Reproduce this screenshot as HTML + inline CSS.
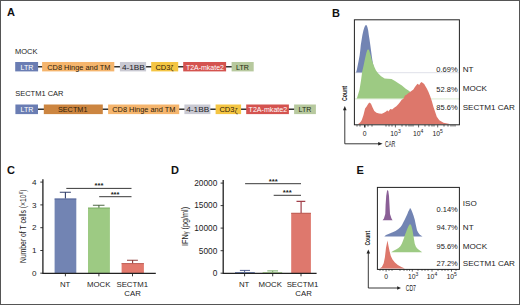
<!DOCTYPE html>
<html><head><meta charset="utf-8">
<style>
html,body{margin:0;padding:0;background:#fff;}
body{width:520px;height:305px;overflow:hidden;position:relative;}
svg{position:absolute;left:0;top:0;display:block;}
text{font-family:"Liberation Sans",sans-serif;}
</style></head>
<body>
<svg width="520" height="305" viewBox="0 0 520 305">
<rect x="0" y="0" width="520" height="305" fill="#fff"/>
<!-- border -->
<rect x="0.5" y="0.5" width="519" height="304" fill="none" stroke="#555" stroke-width="1"/>

<!-- panel letters -->
<g font-weight="bold" font-size="11" fill="#111">
<text x="7" y="16.4">A</text>
<text x="332" y="16.9">B</text>
<text x="6.9" y="173.6">C</text>
<text x="171" y="173.7">D</text>
<text x="356.6" y="173.8">E</text>
</g>

<!-- ===== Panel A ===== -->
<g font-size="7.5" fill="#222">
<text x="15" y="53.8">MOCK</text>
<text x="15.2" y="96.3">SECTM1 CAR</text>
</g>
<g stroke="#333" stroke-width="1.4">
<line x1="37" y1="66.8" x2="245" y2="66.8"/>
<line x1="37" y1="109.3" x2="305" y2="109.3"/>
</g>
<!-- row 1 -->
<g>
<rect x="15.2" y="62" width="22.9" height="9.4" fill="#6a7db3"/>
<rect x="42.1" y="62" width="72.2" height="9.4" fill="#f5b56d"/>
<rect x="119.9" y="62" width="26.2" height="9.4" fill="#c9c9d2"/>
<rect x="151.2" y="62" width="27" height="9.4" fill="#f4c543"/>
<rect x="183.2" y="62" width="42.9" height="9.4" fill="#d4534f"/>
<rect x="231.6" y="62" width="22.1" height="9.4" fill="#b7c99e"/>
</g>
<g font-size="7.2" lengthAdjust="spacingAndGlyphs">
<text x="20.5" y="69.5" fill="#fff" textLength="12.9" lengthAdjust="spacingAndGlyphs">LTR</text>
<text x="47.3" y="69.5" fill="#2e2008" textLength="63" lengthAdjust="spacingAndGlyphs">CD8 Hinge and TM</text>
<text x="121.9" y="69.5" fill="#222226" textLength="23" lengthAdjust="spacingAndGlyphs">4-1BB</text>
<text x="155.4" y="69.5" fill="#2e2008" textLength="15" lengthAdjust="spacingAndGlyphs">CD3</text><text x="170.5" y="70.1" font-size="6.3" fill="#2e2008">ζ</text>
<text x="185.9" y="69.5" fill="#fff" textLength="38.1" lengthAdjust="spacingAndGlyphs">T2A-mkate2</text>
<text x="236.1" y="69.5" fill="#1f2a12" textLength="12.9" lengthAdjust="spacingAndGlyphs">LTR</text>
</g>
<!-- row 2 -->
<g>
<rect x="15.4" y="104.5" width="22.6" height="9.6" fill="#6a7db3"/>
<rect x="43.8" y="104.5" width="59" height="9.6" fill="#cc8540"/>
<rect x="108.1" y="104.5" width="71.1" height="9.6" fill="#f5b56d"/>
<rect x="184.4" y="104.5" width="26" height="9.6" fill="#c9c9d2"/>
<rect x="215.6" y="104.5" width="25.5" height="9.6" fill="#f4c543"/>
<rect x="246.2" y="104.5" width="42.7" height="9.6" fill="#d4534f"/>
<rect x="294.1" y="104.5" width="21.8" height="9.6" fill="#b7c99e"/>
</g>
<g font-size="7.2">
<text x="20.6" y="111.9" fill="#fff" textLength="12.9" lengthAdjust="spacingAndGlyphs">LTR</text>
<text x="57.9" y="111.9" fill="#2e2008" textLength="29.6" lengthAdjust="spacingAndGlyphs">SECTM1</text>
<text x="112.3" y="111.9" fill="#2e2008" textLength="63" lengthAdjust="spacingAndGlyphs">CD8 Hinge and TM</text>
<text x="186.2" y="111.9" fill="#222226" textLength="23" lengthAdjust="spacingAndGlyphs">4-1BB</text>
<text x="219.4" y="111.9" fill="#2e2008" textLength="15.2" lengthAdjust="spacingAndGlyphs">CD3</text><text x="234.8" y="112.5" font-size="6.3" fill="#2e2008">ζ</text>
<text x="248.6" y="111.9" fill="#fff" textLength="38.6" lengthAdjust="spacingAndGlyphs">T2A-mkate2</text>
<text x="298.5" y="111.9" fill="#1f2a12" textLength="12.9" lengthAdjust="spacingAndGlyphs">LTR</text>
</g>

<!-- ===== Panel B ===== -->
<g>
<!-- baselines -->
<line x1="355" y1="72.7" x2="459" y2="72.7" stroke="#dcdee6" stroke-width="0.9"/>
<line x1="355" y1="98.9" x2="459" y2="98.9" stroke="#d6e6cc" stroke-width="0.9"/>
<!-- blue NT -->
<path fill="#7284b3" d="M356,72.6 L356.8,70 L357.6,66 L358.6,61 L359.7,55 L360.3,50 L360.8,45 L361.6,40 L362.4,35 L363.4,30.5 L364.5,27 L365.3,25.6 L366,25 L366.8,25.6 L367.5,27.5 L368.2,30.5 L368.8,35 L369.6,40 L370.3,45 L371.1,51 L371.9,57 L372.8,63 L374,68 L375.5,72.6 Z"/>
<!-- green MOCK -->
<path fill="#9dca83" d="M356.8,98.6 L357.3,97.1 L359.5,89.8 L361,80.6 L362.2,71.5 L363.5,66 L365,58.7 L366.3,53 L367.3,50 L368.2,49.2 L369.2,50.5 L370.5,55 L371.8,60 L373.2,64.1 L374.6,67.5 L376,70.5 L378.3,73.5 L381.1,76.3 L384.6,78.5 L388,78.8 L391.5,79.1 L395,81 L398.4,83.3 L401.9,85.6 L405.4,88.5 L408.8,90.8 L412,93.5 L416,96.2 L421,97.8 L428,98.6 Z"/>
<!-- red SECTM1 -->
<path fill="#dd776b" d="M357.5,124.3 L359,123.4 L360.6,122 L361.8,120 L363.5,115 L365.1,108.5 L366.8,106.2 L368.4,103.5 L369.8,102.4 L371.1,104.1 L372.7,107.8 L374.3,111.1 L376.5,112.7 L379.1,113.4 L381.8,113.8 L384,112.7 L386.1,111.6 L387.2,110.3 L388.3,111.6 L390.4,108.9 L392.1,109.5 L394.2,107.8 L396.4,106.2 L398.5,104.1 L400.1,101.9 L401.7,99.8 L403.4,98.7 L405,95.5 L406.5,94.8 L408.2,93.2 L410,91.9 L411.7,90.8 L413.4,89.6 L414.6,87.5 L415.7,86.1 L417.5,83.8 L419.2,85 L420.4,83 L421.5,82.1 L423.2,83.3 L424.2,84 L425,85.6 L426.8,88.4 L428.4,91.7 L430.1,95.9 L431.8,100.9 L433.4,106.8 L435.1,111.8 L436.8,116.8 L439.3,120.2 L443.5,122.7 L448.5,123.8 L450,124.2 Z"/>
<!-- box -->
<rect x="354.4" y="19.8" width="105" height="105" fill="none" stroke="#222" stroke-width="1"/>
<!-- minor ticks -->
<g stroke="#222" stroke-width="0.7">
<line x1="357" y1="124.9" x2="357" y2="126.6"/>
<line x1="360" y1="124.9" x2="360" y2="126.6"/>
<line x1="364.8" y1="124.9" x2="364.8" y2="127.6" stroke-width="1.4"/>
<line x1="368" y1="124.9" x2="368" y2="126.6"/>
<line x1="372" y1="124.9" x2="372" y2="126.6"/>
<line x1="386" y1="124.9" x2="386" y2="126.6"/>
<line x1="389" y1="124.9" x2="389" y2="126.6"/>
<line x1="392" y1="124.9" x2="392" y2="126.6"/>
<line x1="395.4" y1="124.9" x2="395.4" y2="127.4"/>
<line x1="402" y1="124.9" x2="402" y2="126.6"/>
<line x1="406" y1="124.9" x2="406" y2="126.6"/>
<line x1="409" y1="124.9" x2="409" y2="126.6"/>
<line x1="411" y1="124.9" x2="411" y2="126.6"/>
<line x1="413" y1="124.9" x2="413" y2="126.6"/>
<line x1="418.6" y1="124.9" x2="418.6" y2="127.4"/>
<line x1="425" y1="124.9" x2="425" y2="126.6"/>
<line x1="429" y1="124.9" x2="429" y2="126.6"/>
<line x1="432" y1="124.9" x2="432" y2="126.6"/>
<line x1="434" y1="124.9" x2="434" y2="126.6"/>
<line x1="437.7" y1="124.9" x2="437.7" y2="127.4"/>
<line x1="444" y1="124.9" x2="444" y2="126.6"/>
<line x1="448" y1="124.9" x2="448" y2="126.6"/>
<line x1="451" y1="124.9" x2="451" y2="126.6"/>
<line x1="453" y1="124.9" x2="453" y2="126.6"/>
<line x1="455" y1="124.9" x2="455" y2="126.6"/>
</g>
<g font-size="6.8" fill="#222" text-anchor="middle">
<text x="364.6" y="135.9">0</text>
<text x="395.5" y="135.9">10<tspan font-size="5" dy="-2.6">3</tspan></text>
<text x="418.2" y="135.9">10<tspan font-size="5" dy="-2.6">4</tspan></text>
<text x="437.6" y="135.9">10<tspan font-size="5" dy="-2.6">5</tspan></text>
</g>
<!-- arrows -->
<path d="M344.8,109 L344.8,143.8 L380,143.8" fill="none" stroke="#222" stroke-width="0.9"/>
<path d="M344.8,106 L343,110.2 L346.6,110.2 Z" fill="#222"/>
<path d="M382.6,143.8 L378.2,142.1 L378.2,145.5 Z" fill="#222"/>
<text x="385" y="146.6" font-size="8.4" fill="#222" textLength="10.4" lengthAdjust="spacingAndGlyphs">CAR</text>
<text x="0" y="0" font-size="7.3" font-weight="bold" fill="#222" transform="translate(347.4,101.1) rotate(-90)" textLength="15.2" lengthAdjust="spacingAndGlyphs">Count</text>
<!-- labels -->
<g font-size="7.5" fill="#222" text-anchor="end">
<text x="457.6" y="71.9">0.69%</text>
<text x="457.6" y="91.6">52.8%</text>
<text x="457.6" y="110.4">85.6%</text>
</g>
<g font-size="8.1" fill="#222">
<text x="462.7" y="71.6">NT</text>
<text x="462.7" y="91.4">MOCK</text>
<text x="462.7" y="110.3">SECTM1 CAR</text>
</g>
</g>

<!-- ===== Panel C ===== -->
<g>
<!-- bars -->
<rect x="54.6" y="198.6" width="21.7" height="74.6" fill="#7284b3"/>
<line x1="54.6" y1="199" x2="76.3" y2="199" stroke="#4e5d92" stroke-width="0.8"/>
<rect x="88" y="207.7" width="21.9" height="65.5" fill="#9dca83"/>
<line x1="88" y1="208.1" x2="109.9" y2="208.1" stroke="#78a862" stroke-width="0.8"/>
<rect x="121.6" y="263.2" width="22.3" height="10" fill="#e2796d"/>
<line x1="121.6" y1="263.6" x2="143.9" y2="263.6" stroke="#b5574f" stroke-width="0.8"/>
<!-- error bars -->
<path d="M65.4,198.4 V192.2 M59.8,192.2 H70.9" stroke="#35426e" stroke-width="1.1" fill="none"/>
<path d="M98.9,207.8 V205.3 M92.9,205.3 H104.5" stroke="#4f6a45" stroke-width="1.1" fill="none"/>
<path d="M132.6,263.2 V260.3 M127,260.3 H137.9" stroke="#8e3d3a" stroke-width="1.1" fill="none"/>
<!-- axes -->
<path d="M42.9,179.3 V273.4 H155.8" stroke="#222" stroke-width="1.3" fill="none"/>
<g stroke="#222" stroke-width="0.9">
<line x1="40.3" y1="182.1" x2="43" y2="182.1"/>
<line x1="40.3" y1="204.9" x2="43" y2="204.9"/>
<line x1="40.3" y1="227.7" x2="43" y2="227.7"/>
<line x1="40.3" y1="250.5" x2="43" y2="250.5"/>
<line x1="40.3" y1="273.2" x2="43" y2="273.2"/>
<line x1="65.4" y1="273.2" x2="65.4" y2="276.3"/>
<line x1="98.9" y1="273.2" x2="98.9" y2="276.3"/>
<line x1="132.5" y1="273.2" x2="132.5" y2="276.3"/>
</g>
<g font-size="8.1" fill="#222" text-anchor="end">
<text x="36.6" y="184.9">4</text>
<text x="36.6" y="207.6">3</text>
<text x="36.6" y="230.4">2</text>
<text x="36.6" y="253.2">1</text>
<text x="36.6" y="275.9">0</text>
</g>
<g font-size="7.8" fill="#222" text-anchor="middle">
<text x="65.1" y="286.6">NT</text>
<text x="98.7" y="286.6">MOCK</text>
<text x="132.3" y="286.6">SECTM1</text>
<text x="132.6" y="295.7">CAR</text>
</g>
<text x="0" y="0" font-size="8.2" fill="#222" transform="translate(26,263) rotate(-90)" textLength="73.4" lengthAdjust="spacingAndGlyphs">Number of T cells (×10<tspan font-size="5.4" dy="-2.9">6</tspan><tspan dy="2.9">)</tspan></text>
<!-- significance -->
<g stroke="#222" stroke-width="0.9">
<line x1="66.3" y1="188.4" x2="131.5" y2="188.4"/>
<line x1="99.2" y1="196.7" x2="131.5" y2="196.7"/>
</g>
<g font-size="7.6" font-weight="bold" fill="#222" text-anchor="middle">
<text x="99" y="188.2">***</text>
<text x="115.1" y="196.8">***</text>
</g>
</g>

<!-- ===== Panel D ===== -->
<g>
<rect x="235" y="272" width="19.8" height="1.2" fill="#7284b3"/>
<rect x="262.6" y="272.2" width="19.6" height="1" fill="#9dca83"/>
<rect x="291.2" y="212.9" width="19.7" height="60.3" fill="#de786d"/>
<line x1="291.2" y1="213.3" x2="310.9" y2="213.3" stroke="#b5574f" stroke-width="0.8"/>
<path d="M244.6,272 V270.4 M239.9,270.4 H250" stroke="#3f4f86" stroke-width="0.9" fill="none"/>
<path d="M272.7,272.2 V270.9 M267.3,270.9 H278" stroke="#6aa556" stroke-width="0.9" fill="none"/>
<path d="M301.1,212.9 V201.4 M296.5,201.4 H305.3" stroke="#a2404a" stroke-width="1.2" fill="none"/>
<path d="M223.2,179.9 V273.4 H316.6" stroke="#222" stroke-width="1.3" fill="none"/>
<g stroke="#222" stroke-width="0.9">
<line x1="220.6" y1="183.1" x2="223.3" y2="183.1"/>
<line x1="220.6" y1="205.6" x2="223.3" y2="205.6"/>
<line x1="220.6" y1="228.1" x2="223.3" y2="228.1"/>
<line x1="220.6" y1="250.7" x2="223.3" y2="250.7"/>
<line x1="220.6" y1="273.2" x2="223.3" y2="273.2"/>
<line x1="244.6" y1="273.2" x2="244.6" y2="276.3"/>
<line x1="272.7" y1="273.2" x2="272.7" y2="276.3"/>
<line x1="301" y1="273.2" x2="301" y2="276.3"/>
</g>
<g font-size="8.3" fill="#222" text-anchor="end">
<text x="217.3" y="185.9">20000</text>
<text x="217.3" y="208.4">15000</text>
<text x="217.3" y="230.9">10000</text>
<text x="217.3" y="253.5">5000</text>
<text x="217.3" y="276">0</text>
</g>
<g font-size="7.8" fill="#222" text-anchor="middle">
<text x="244.2" y="286.6">NT</text>
<text x="270.2" y="286.6">MOCK</text>
<text x="302.5" y="286.6">SECTM1</text>
<text x="303.6" y="296.3">CAR</text>
</g>
<text x="0" y="0" font-size="8.3" fill="#222" transform="translate(187.9,245.9) rotate(-90)" textLength="39" lengthAdjust="spacingAndGlyphs">IFN<tspan font-size="6.4">γ</tspan> (pg/ml)</text>
<g stroke="#222" stroke-width="0.9">
<line x1="245.1" y1="183.7" x2="301" y2="183.7"/>
<line x1="273.7" y1="195.3" x2="301" y2="195.3"/>
</g>
<g font-size="7.6" font-weight="bold" fill="#222" text-anchor="middle">
<text x="273.2" y="183.7">***</text>
<text x="287.2" y="194.9">***</text>
</g>
</g>

<!-- ===== Panel E ===== -->
<g>
<!-- purple ISO -->
<path fill="#8a5f96" d="M382.6,220.3 L383.9,218.4 L385.3,214 L385.6,205 L386.2,196 L387,191 L387.6,189.9 L388.3,191 L389,196 L389.5,205 L390,214 L391.5,218.4 L392.6,220.3 Z"/>
<!-- blue NT -->
<path fill="#7284b3" d="M384.3,236.4 L386,235 L388.5,234 L392,232.6 L395.5,231 L398.4,229 L400.6,227 L402,225 L403.5,222 L404.8,219.5 L406.2,216.4 L407.4,214 L408.3,211.5 L409.2,210 L409.9,208.2 L410.7,208.6 L411.6,210.4 L412.4,212.6 L413.5,215.5 L414.7,219.5 L415.9,225.2 L417,230.2 L418.2,232.6 L419.6,234.5 L421,235.6 L422.5,236.4 Z"/>
<!-- green MOCK -->
<path fill="#9dca83" d="M391.1,252.2 L393.5,250.8 L396,249.5 L398.5,248 L400.3,246.2 L401.8,243.8 L402.8,241.3 L404,238 L405,234.8 L406.3,231.5 L407.5,228.2 L408.7,225.8 L410,224.1 L411.2,225.2 L412.4,229.8 L413.6,236.7 L414.7,243.6 L415.8,246.6 L417,248.2 L418.8,249.8 L420.5,250.9 L422.3,252.2 Z"/>
<!-- red SECTM1 -->
<path fill="#dd776b" d="M379.5,268.4 L381.9,266.9 L383.7,263.2 L384.9,257.3 L386,247.8 L387.5,240.5 L388.4,245.4 L389.6,251.3 L390.8,256 L392.5,259.6 L394.9,262.6 L397.8,264.9 L401.4,266.9 L404.9,268.4 Z"/>
<rect x="377.4" y="187.4" width="82" height="82" fill="none" stroke="#222" stroke-width="1"/>
<g stroke="#222" stroke-width="0.7">
<line x1="380" y1="269.4" x2="380" y2="270.8"/>
<line x1="383" y1="269.4" x2="383" y2="270.8"/>
<line x1="386.1" y1="269.4" x2="386.1" y2="271.6"/>
<line x1="389" y1="269.4" x2="389" y2="270.8"/>
<line x1="392" y1="269.4" x2="392" y2="270.8"/>
<line x1="400" y1="269.4" x2="400" y2="270.8"/>
<line x1="404" y1="269.4" x2="404" y2="270.8"/>
<line x1="407" y1="269.4" x2="407" y2="270.8"/>
<line x1="409.5" y1="269.4" x2="409.5" y2="270.8"/>
<line x1="412.3" y1="269.4" x2="412.3" y2="271.6"/>
<line x1="418" y1="269.4" x2="418" y2="270.8"/>
<line x1="422" y1="269.4" x2="422" y2="270.8"/>
<line x1="425" y1="269.4" x2="425" y2="270.8"/>
<line x1="428" y1="269.4" x2="428" y2="270.8"/>
<line x1="432" y1="269.4" x2="432" y2="271.6"/>
<line x1="438" y1="269.4" x2="438" y2="270.8"/>
<line x1="442" y1="269.4" x2="442" y2="270.8"/>
<line x1="445" y1="269.4" x2="445" y2="270.8"/>
<line x1="448" y1="269.4" x2="448" y2="270.8"/>
<line x1="451.5" y1="269.4" x2="451.5" y2="271.6"/>
<line x1="456" y1="269.4" x2="456" y2="270.8"/>
</g>
<g font-size="6.8" fill="#222" text-anchor="middle">
<text x="386.1" y="278.6">0</text>
<text x="413.1" y="278.6">10<tspan font-size="5" dy="-2.6">3</tspan></text>
<text x="432" y="278.6">10<tspan font-size="5" dy="-2.6">4</tspan></text>
<text x="451.6" y="278.6">10<tspan font-size="5" dy="-2.6">5</tspan></text>
</g>
<path d="M368.3,252 L368.3,288 L398,288" fill="none" stroke="#222" stroke-width="0.9"/>
<path d="M368.3,249.4 L366.5,253.6 L370.1,253.6 Z" fill="#222"/>
<path d="M401,288 L397.2,286.2 L397.2,289.8 Z" fill="#222"/>
<text x="405.7" y="290.9" font-size="8.6" fill="#222" textLength="10.3" lengthAdjust="spacingAndGlyphs">CD7</text>
<text x="0" y="0" font-size="7.3" font-weight="bold" fill="#222" transform="translate(370.4,245.6) rotate(-90)" textLength="14.8" lengthAdjust="spacingAndGlyphs">Count</text>
<g font-size="7.5" fill="#222" text-anchor="end">
<text x="457.8" y="212">0.14%</text>
<text x="457.8" y="230">94.7%</text>
<text x="457.8" y="248.9">95.6%</text>
<text x="457.8" y="266.4">27.2%</text>
</g>
<g font-size="8.1" fill="#222">
<text x="462.8" y="206">ISO</text>
<text x="462.8" y="230">NT</text>
<text x="462.8" y="248.9">MOCK</text>
<text x="462.8" y="266.4">SECTM1 CAR</text>
</g>
</g>

</svg>
</body></html>
